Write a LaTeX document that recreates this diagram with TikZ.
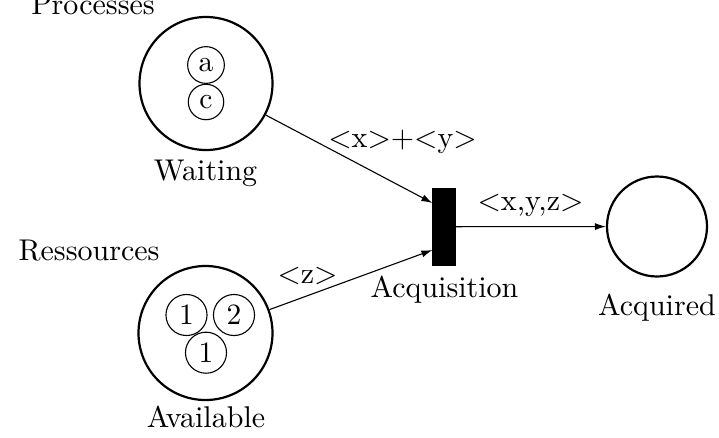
\documentclass[tikz,border=0pt]{standalone}
\usetikzlibrary{arrows.meta}
\begin{document}
\begin{tikzpicture}[x=1pt,y=-1pt,
  lbl/.style={anchor=base,inner sep=0pt,scale=3.0,font=\normalsize},
  place/.style={circle,draw,line width=2.2pt,inner sep=0pt,minimum size=#1},
  token/.style={circle,draw,line width=1.1pt,inner sep=2pt,scale=2.95,font=\normalsize},
  trans/.style={rectangle,fill=black,draw=black,line width=0.5pt,inner sep=0pt,minimum width=22.5pt,minimum height=76.5pt},
  arr/.style={-{Latex[length=11pt,width=7pt]},line width=1.1pt}]
\useasboundingbox (0,0) rectangle (719,437);
% places
\node[place=133pt] (wait) at (206,83.5) {};
\node[place=134pt] (avail) at (205.5,333) {};
\node[place=100pt] (acq) at (657,226.5) {};
% transition
\node[trans] (t) at (443.7,226.7) {};
\coordinate (tA) at (432.4,203);
\coordinate (tB) at (432.4,250);
% tokens
\node[token] (ta) at (206,65) {a};
\node[token] (tc) at (206,102) {c};
\node[token] (r1) at (186.5,315) {1};
\node[token] (r2) at (234,315) {2};
\node[token] (r3) at (206,352.7) {1};
% labels
\node[lbl] (lproc) at (93,14) {Processes};
\node[lbl] (lres) at (89,260) {Ressources};
\node[lbl] (lwait) at (205.5,180) {Waiting};
\node[lbl] (lavail) at (206,427) {Available};
\node[lbl] (lacqn) at (444.5,297) {Acquisition};
\node[lbl] (lacq) at (657,315) {Acquired};
% arcs
\draw[arr] (wait) -- (tA);
\draw[arr] (avail) -- (tB);
\draw[arr] (t.east) -- (acq);
\node[lbl] (lxy) at (402.5,147) {$<$x$>$+$<$y$>$};
\node[lbl] (lz) at (307.5,283) {$<$z$>$};
\node[lbl] (lxyz) at (530.5,210) {$<$x,y,z$>$};
\end{tikzpicture}
\end{document}
